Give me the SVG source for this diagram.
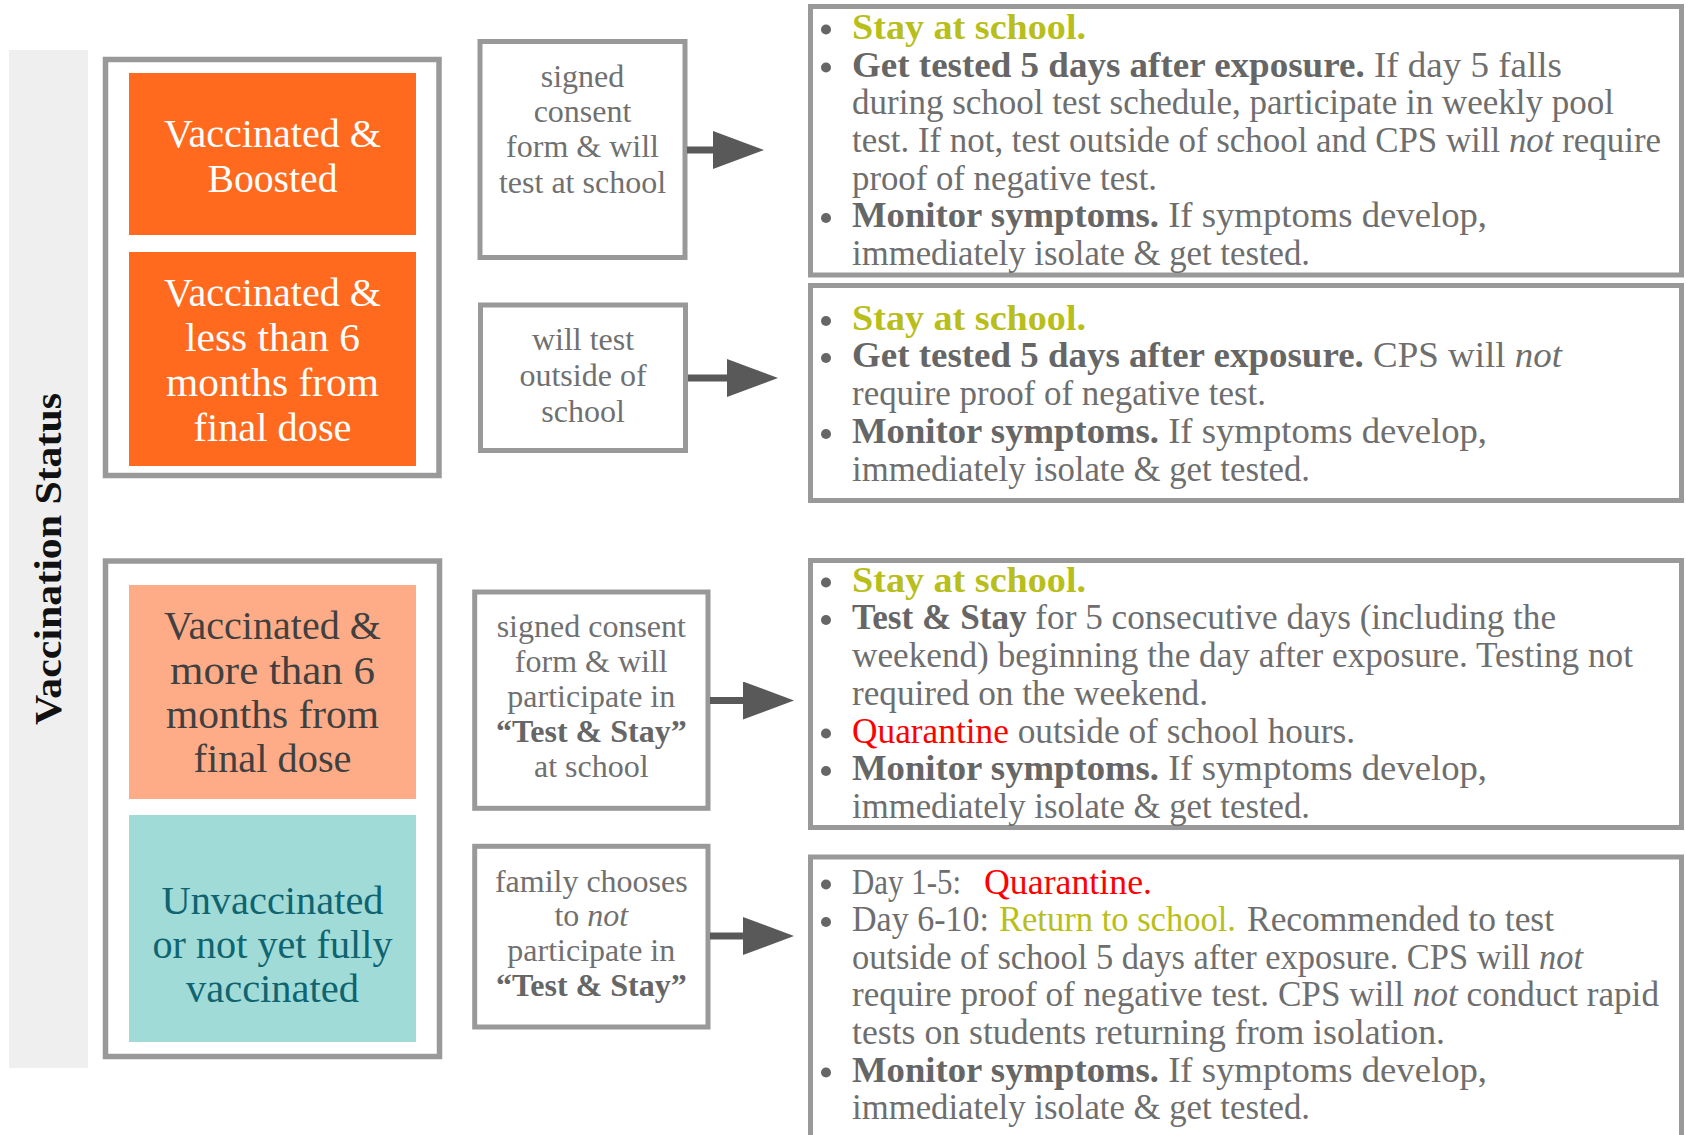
<svg xmlns="http://www.w3.org/2000/svg" width="1686" height="1135" viewBox="0 0 1686 1135">
<defs>
<style>
.frame{fill:#fff;stroke:#999;stroke-width:5.5}
.box{fill:#fff;stroke:#999;stroke-width:5}
.lbl{font-family:"Liberation Serif","Times New Roman",serif;font-size:39px;text-anchor:middle}
.w{fill:#fff}
.dk{fill:#404040}
.tl{fill:#0f6470}
.tb{font-family:"Liberation Serif","Times New Roman",serif;font-size:32px;fill:#707070;text-anchor:middle}
.rb{font-family:"Liberation Serif","Times New Roman",serif;font-size:35px;fill:#6e6e6e}
.b{font-weight:bold;fill:#666}
.i{font-style:italic}
.g{fill:#b8be1a}
.gb{fill:#b8be1a;font-weight:bold}
.r{fill:#ff0000}
.dot{fill:#666}
.conn{stroke:#595959;stroke-width:7;fill:none}
</style>
<marker id="ah" markerUnits="userSpaceOnUse" markerWidth="52" markerHeight="38" refX="0" refY="19" orient="auto">
<path d="M0,0 L51,19 L0,38 Z" fill="#595959"/>
</marker>
</defs>
<rect width="1686" height="1135" fill="#fff"/>

<g id="title">
<rect x="9" y="50" width="79" height="1018" fill="#efefef"/>
<text transform="translate(61,559) rotate(-90)" x="0" y="0" text-anchor="middle" font-family="'Liberation Serif','Times New Roman',serif" font-size="37" font-weight="bold" fill="#111" textLength="332" lengthAdjust="spacingAndGlyphs">Vaccination Status</text>
</g>

<g id="group-vaccinated">
<rect class="frame" x="105.5" y="59.5" width="333.5" height="416"/>
</g>
<g id="group-other">
<rect class="frame" x="105.5" y="561" width="334" height="495.5"/>
</g>

<g id="vax-boosted">
<rect x="129" y="73" width="287" height="162" fill="#ff6a1f"/>
<text class="lbl w" x="272.5" y="147" textLength="217" lengthAdjust="spacingAndGlyphs">Vaccinated &amp;</text>
<text class="lbl w" x="272.5" y="191.5" textLength="130" lengthAdjust="spacingAndGlyphs">Boosted</text>
</g>
<g id="vax-less6">
<rect x="129" y="252" width="287" height="214" fill="#ff6a1f"/>
<text class="lbl w" x="272.5" y="306" textLength="217" lengthAdjust="spacingAndGlyphs">Vaccinated &amp;</text>
<text class="lbl w" x="272.5" y="351" textLength="175" lengthAdjust="spacingAndGlyphs">less than 6</text>
<text class="lbl w" x="272.5" y="396" textLength="213" lengthAdjust="spacingAndGlyphs">months from</text>
<text class="lbl w" x="272.5" y="441" textLength="158" lengthAdjust="spacingAndGlyphs">final dose</text>
</g>
<g id="vax-more6">
<rect x="129" y="585" width="287" height="214" fill="#feac88"/>
<text class="lbl dk" x="272.5" y="638.5" textLength="217" lengthAdjust="spacingAndGlyphs">Vaccinated &amp;</text>
<text class="lbl dk" x="272.5" y="683.5" textLength="205" lengthAdjust="spacingAndGlyphs">more than 6</text>
<text class="lbl dk" x="272.5" y="728" textLength="213" lengthAdjust="spacingAndGlyphs">months from</text>
<text class="lbl dk" x="272.5" y="772" textLength="158" lengthAdjust="spacingAndGlyphs">final dose</text>
</g>
<g id="unvax">
<rect x="129" y="815" width="287" height="227" fill="#a0dbd8"/>
<text class="lbl tl" x="272.5" y="913.5" textLength="222" lengthAdjust="spacingAndGlyphs">Unvaccinated</text>
<text class="lbl tl" x="272.5" y="958" textLength="240" lengthAdjust="spacingAndGlyphs">or not yet fully</text>
<text class="lbl tl" x="272.5" y="1002" textLength="173" lengthAdjust="spacingAndGlyphs">vaccinated</text>
</g>

<g id="cond-school-test">
<rect class="box" x="480" y="41.5" width="205" height="216"/>
<text class="tb" x="582.5" y="87">signed</text>
<text class="tb" x="582.5" y="122">consent</text>
<text class="tb" x="582.5" y="157">form &amp; will</text>
<text class="tb" x="582.5" y="192.5">test at school</text>
</g>
<g id="cond-outside-test">
<rect class="box" x="480.5" y="305" width="205" height="145.5"/>
<text class="tb" x="583" y="350">will test</text>
<text class="tb" x="583" y="386">outside of</text>
<text class="tb" x="583" y="421.5">school</text>
</g>
<g id="cond-test-stay">
<rect class="box" x="474.7" y="592" width="233.3" height="216.3"/>
<text class="tb" x="591.3" y="637">signed consent</text>
<text class="tb" x="591.3" y="671.5">form &amp; will</text>
<text class="tb" x="591.3" y="706.5">participate in</text>
<text class="tb b" x="591.3" y="741.5">“Test &amp; Stay”</text>
<text class="tb" x="591.3" y="776.5">at school</text>
</g>
<g id="cond-no-test-stay">
<rect class="box" x="474.7" y="846.3" width="233.3" height="180.7"/>
<text class="tb" x="591.3" y="891.5">family chooses</text>
<text class="tb" x="591.3" y="925.5">to <tspan class="i">not</tspan></text>
<text class="tb" x="591.3" y="960.5">participate in</text>
<text class="tb b" x="591.3" y="995.5">“Test &amp; Stay”</text>
</g>

<g id="result-1">
<rect class="box" x="810.5" y="6.5" width="871" height="268.5"/>
<circle class="dot" cx="826" cy="29.5" r="5"/>
<circle class="dot" cx="826" cy="67.5" r="5"/>
<circle class="dot" cx="826" cy="218" r="5"/>
<text class="rb" x="852" y="38.5" textLength="234" lengthAdjust="spacingAndGlyphs"><tspan class="gb">Stay at school.</tspan></text>
<text class="rb" x="852" y="76.5" textLength="710" lengthAdjust="spacingAndGlyphs"><tspan class="b">Get tested 5 days after exposure.</tspan> If day 5 falls</text>
<text class="rb" x="852" y="114" textLength="762" lengthAdjust="spacingAndGlyphs">during school test schedule, participate in weekly pool</text>
<text class="rb" x="852" y="152" textLength="809" lengthAdjust="spacingAndGlyphs">test. If not, test outside of school and CPS will <tspan class="i">not</tspan> require</text>
<text class="rb" x="852" y="189.5" textLength="305" lengthAdjust="spacingAndGlyphs">proof of negative test.</text>
<text class="rb" x="852" y="227" textLength="635" lengthAdjust="spacingAndGlyphs"><tspan class="b">Monitor symptoms.</tspan> If symptoms develop,</text>
<text class="rb" x="852" y="265" textLength="458" lengthAdjust="spacingAndGlyphs">immediately isolate &amp; get tested.</text>
</g>

<g id="result-2">
<rect class="box" x="810.5" y="285.5" width="871" height="215"/>
<circle class="dot" cx="826" cy="321" r="5"/>
<circle class="dot" cx="826" cy="358" r="5"/>
<circle class="dot" cx="826" cy="434" r="5"/>
<text class="rb" x="852" y="330" textLength="234" lengthAdjust="spacingAndGlyphs"><tspan class="gb">Stay at school.</tspan></text>
<text class="rb" x="852" y="367" textLength="710" lengthAdjust="spacingAndGlyphs"><tspan class="b">Get tested 5 days after exposure.</tspan> CPS will <tspan class="i">not</tspan></text>
<text class="rb" x="852" y="405" textLength="414" lengthAdjust="spacingAndGlyphs">require proof of negative test.</text>
<text class="rb" x="852" y="443" textLength="635" lengthAdjust="spacingAndGlyphs"><tspan class="b">Monitor symptoms.</tspan> If symptoms develop,</text>
<text class="rb" x="852" y="480.5" textLength="458" lengthAdjust="spacingAndGlyphs">immediately isolate &amp; get tested.</text>
</g>

<g id="result-3">
<rect class="box" x="810.5" y="560.5" width="871" height="267"/>
<circle class="dot" cx="826" cy="582.5" r="5"/>
<circle class="dot" cx="826" cy="620" r="5"/>
<circle class="dot" cx="826" cy="733.5" r="5"/>
<circle class="dot" cx="826" cy="771" r="5"/>
<text class="rb" x="852" y="591.5" textLength="234" lengthAdjust="spacingAndGlyphs"><tspan class="gb">Stay at school.</tspan></text>
<text class="rb" x="852" y="629" textLength="704" lengthAdjust="spacingAndGlyphs"><tspan class="b">Test &amp; Stay</tspan> for 5 consecutive days (including the</text>
<text class="rb" x="852" y="667" textLength="781" lengthAdjust="spacingAndGlyphs">weekend) beginning the day after exposure. Testing not</text>
<text class="rb" x="852" y="705" textLength="356" lengthAdjust="spacingAndGlyphs">required on the weekend.</text>
<text class="rb" x="852" y="742.5" textLength="503" lengthAdjust="spacingAndGlyphs"><tspan class="r">Quarantine</tspan> outside of school hours.</text>
<text class="rb" x="852" y="780" textLength="635" lengthAdjust="spacingAndGlyphs"><tspan class="b">Monitor symptoms.</tspan> If symptoms develop,</text>
<text class="rb" x="852" y="818" textLength="458" lengthAdjust="spacingAndGlyphs">immediately isolate &amp; get tested.</text>
</g>

<g id="result-4">
<rect class="box" x="810.5" y="857" width="871" height="292"/>
<circle class="dot" cx="826" cy="884.5" r="5"/>
<circle class="dot" cx="826" cy="922" r="5"/>
<circle class="dot" cx="826" cy="1072.5" r="5"/>
<text class="rb" y="893.5"><tspan x="852" textLength="109" lengthAdjust="spacingAndGlyphs">Day 1-5:</tspan><tspan class="r" x="984" textLength="168" lengthAdjust="spacingAndGlyphs">Quarantine.</tspan></text>
<text class="rb" y="931"><tspan x="852" textLength="137" lengthAdjust="spacingAndGlyphs">Day 6-10:</tspan><tspan class="g" x="999" textLength="237" lengthAdjust="spacingAndGlyphs">Return to school.</tspan><tspan x="1247" textLength="307" lengthAdjust="spacingAndGlyphs">Recommended to test</tspan></text>
<text class="rb" x="852" y="968.5" textLength="731" lengthAdjust="spacingAndGlyphs">outside of school 5 days after exposure. CPS will <tspan class="i">not</tspan></text>
<text class="rb" x="852" y="1006" textLength="807" lengthAdjust="spacingAndGlyphs">require proof of negative test.  CPS will <tspan class="i">not</tspan> conduct rapid</text>
<text class="rb" x="852" y="1043.5" textLength="593" lengthAdjust="spacingAndGlyphs">tests on students returning from isolation.</text>
<text class="rb" x="852" y="1081.5" textLength="635" lengthAdjust="spacingAndGlyphs"><tspan class="b">Monitor symptoms.</tspan> If symptoms develop,</text>
<text class="rb" x="852" y="1119" textLength="458" lengthAdjust="spacingAndGlyphs">immediately isolate &amp; get tested.</text>
</g>

<g id="connectors">
<line class="conn" x1="687" y1="150" x2="713" y2="150" marker-end="url(#ah)"/>
<line class="conn" x1="688" y1="378" x2="727" y2="378" marker-end="url(#ah)"/>
<line class="conn" x1="710" y1="700.5" x2="743" y2="700.5" marker-end="url(#ah)"/>
<line class="conn" x1="710" y1="936" x2="743" y2="936" marker-end="url(#ah)"/>
</g>
</svg>
